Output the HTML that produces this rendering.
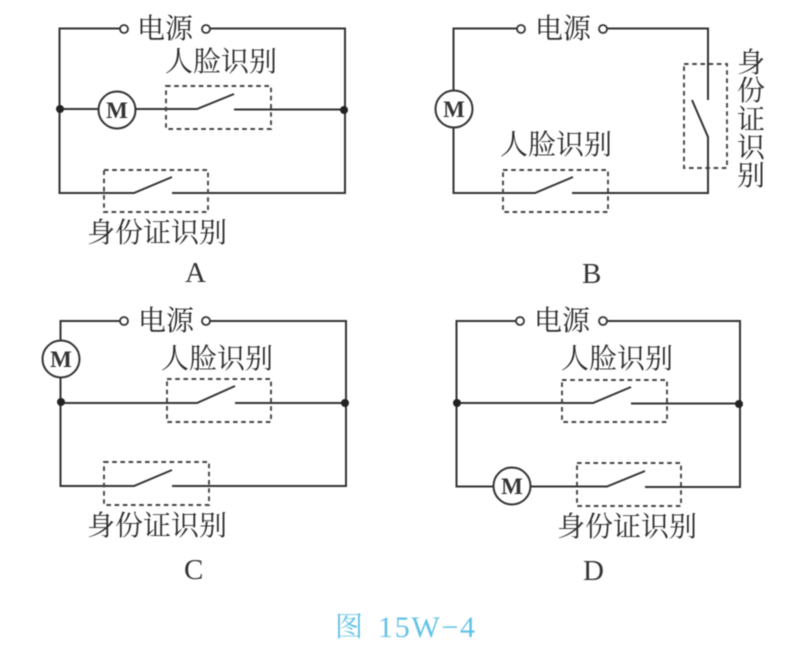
<!DOCTYPE html>
<html><head><meta charset="utf-8">
<style>
html,body{margin:0;padding:0;background:#fff;width:791px;height:649px;overflow:hidden}
svg{display:block;filter:blur(0.45px)}
.w{fill:none;stroke:#333;stroke-width:2}
.d{fill:none;stroke:#444;stroke-width:1.9;stroke-dasharray:4.6 3.6}
.t{fill:#fff;stroke:#333;stroke-width:1.8}
.m{fill:#fff;stroke:#333;stroke-width:2}
.c{font-family:"Liberation Serif","Noto Serif CJK SC",serif;font-size:28px;fill:#2c2c2c}
.l{font-family:"Liberation Serif",serif;font-size:29px;fill:#333}
.M{font-family:"Liberation Serif",serif;font-size:23px;font-weight:bold;fill:#333;text-anchor:middle}
</style></head><body>
<svg width="791" height="649" viewBox="0 0 791 649" xmlns="http://www.w3.org/2000/svg">
<!-- A -->
<path class="w" d="M120 28.500H59.500V193H134L172 177M172 193H345V28.500H210M60 109H197L234 94M234 109.500H345"/>
<rect class="d" x="166" y="86" width="105" height="43"/>
<rect class="d" x="104" y="170" width="104" height="42"/>
<circle class="t" cx="124" cy="29" r="4"/><circle class="t" cx="206" cy="29" r="4"/>
<circle cx="60" cy="109" r="4" fill="#222"/><circle cx="344" cy="110" r="4" fill="#222"/>
<circle class="m" cx="117" cy="110" r="18.500"/><text class="M" x="117" y="118">M</text>
<text class="c" x="137" y="38" textLength="56">电源</text>
<text class="c" x="165" y="71" textLength="112">人脸识别</text>
<text class="c" x="87" y="242" textLength="140">身份证识别</text>
<text class="l" x="185" y="282">A</text>
<!-- B -->
<path class="w" d="M517 28.500H453.500V193H535L573 177M572 193H708V137L692 100M708 100V28.500H607"/>
<rect class="d" x="503" y="170" width="105" height="42"/>
<rect class="d" x="684" y="64" width="43" height="104"/>
<circle class="t" cx="521" cy="29" r="4"/><circle class="t" cx="603" cy="29" r="4"/>
<circle class="m" cx="454" cy="109" r="18.500"/><text class="M" x="454" y="117">M</text>
<text class="c" x="535" y="38" textLength="56">电源</text>
<text class="c" x="500" y="154" textLength="112">人脸识别</text>
<text class="c" x="737" y="72">身</text><text class="c" x="737" y="100">份</text><text class="c" x="737" y="129">证</text><text class="c" x="737" y="157">识</text><text class="c" x="737" y="185">别</text>
<text class="l" x="582" y="283">B</text>
<!-- C -->
<path class="w" d="M120 321H60.500V486H134L172 470M172 486H346V321H210M61 403H197L235 386M235 403H345"/>
<rect class="d" x="167" y="379" width="104" height="43"/>
<rect class="d" x="104" y="462" width="105" height="43"/>
<circle class="t" cx="124" cy="321" r="4"/><circle class="t" cx="206" cy="321" r="4"/>
<circle cx="61" cy="402" r="4" fill="#222"/><circle cx="345" cy="403" r="4" fill="#222"/>
<circle class="m" cx="61" cy="359" r="18.500"/><text class="M" x="61" y="367">M</text>
<text class="c" x="138" y="330" textLength="56">电源</text>
<text class="c" x="161" y="368" textLength="112">人脸识别</text>
<text class="c" x="87" y="535" textLength="140">身份证识别</text>
<text class="l" x="184" y="579">C</text>
<!-- D -->
<path class="w" d="M516 321H456.500V486.500H607L645 471M645 487H740V321H607M457 403H593L631 387M631 403.500H740"/>
<rect class="d" x="562" y="380" width="105" height="42"/>
<rect class="d" x="577" y="463" width="104" height="43"/>
<circle class="t" cx="520" cy="321" r="4"/><circle class="t" cx="603" cy="321" r="4"/>
<circle cx="457" cy="403" r="4" fill="#222"/><circle cx="739" cy="404" r="4" fill="#222"/>
<circle class="m" cx="512" cy="486" r="18.500"/><text class="M" x="512" y="494">M</text>
<text class="c" x="534" y="330" textLength="56">电源</text>
<text class="c" x="561" y="368" textLength="112">人脸识别</text>
<text class="c" x="557" y="536" textLength="140">身份证识别</text>
<text class="l" x="583" y="580">D</text>
<!-- caption -->
<text x="335" y="636" font-family="'Liberation Serif','Noto Serif CJK SC',serif" font-size="28" fill="#62c3e6">图</text>
<text x="378" y="637" font-family="'Liberation Serif',serif" font-size="30" fill="#62c3e6" textLength="97">15W−4</text>
</svg>
</body></html>
